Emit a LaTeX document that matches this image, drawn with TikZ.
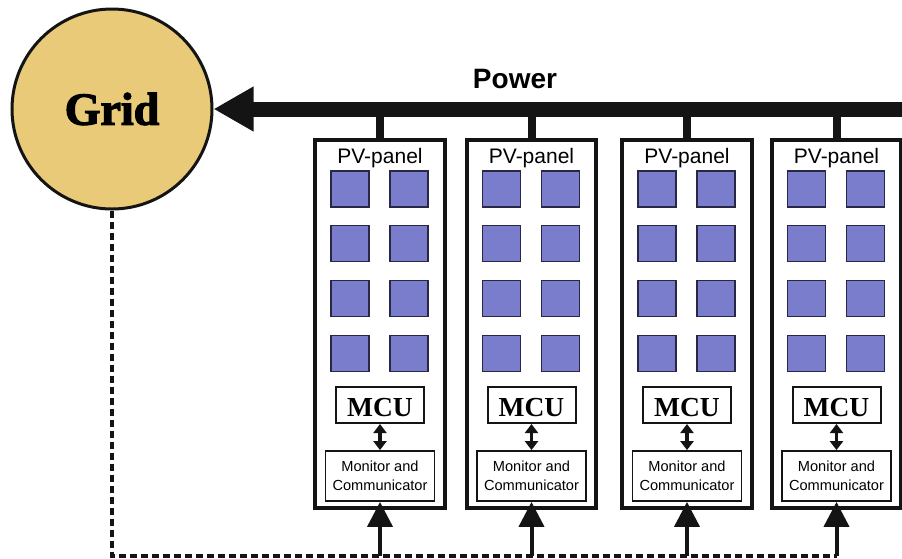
\documentclass[tikz,border=0pt]{standalone}
\usepackage{fontspec}
\setmainfont{Liberation Serif}
\setsansfont{Liberation Sans}
\newfontfamily\gridfont[BoldFeatures={FakeBold=2.5}]{Liberation Serif}
\usetikzlibrary{arrows.meta}
\definecolor{gridfill}{RGB}{233,202,120}
\definecolor{cellblue}{RGB}{121,125,204}
\definecolor{celledge}{RGB}{40,40,70}
\definecolor{ink}{RGB}{20,20,20}
\tikzset{
  gridnode/.style={circle, draw=ink, line width=3pt, fill=gridfill, minimum size=200pt, inner sep=0pt,
    font=\gridfont\bfseries\fontsize{46}{46}\selectfont},
  bus/.style={draw=ink, line width=15pt, -{Triangle[length=40pt,width=42pt]}},
  stub/.style={draw=ink, line width=8pt},
  panelbox/.style={rectangle, draw=ink, line width=4pt, minimum height=368pt, inner sep=0pt},
  paneltitle/.style={anchor=base, inner sep=0pt, font=\sffamily\fontsize{21}{21}\selectfont},
  cell/.style={rectangle, draw=celledge, line width=1.2pt, fill=cellblue, minimum width=38pt, minimum height=36pt, inner sep=0pt},
  mcubox/.style={rectangle, draw=ink, line width=2pt, minimum width=88pt, minimum height=36pt, inner sep=0pt},
  mcutext/.style={anchor=base, inner sep=0pt, font=\bfseries\fontsize{27.5}{27.5}\selectfont},
  monbox/.style={rectangle, draw=ink, line width=1.8pt, minimum width=109pt, minimum height=50pt, inner sep=0pt,
    align=center, font=\sffamily\fontsize{14.6}{19}\selectfont},
  dbl/.style={draw=ink, line width=3.5pt, {Triangle[length=9pt,width=13pt]}-{Triangle[length=9pt,width=13pt]}},
  uparrow/.style={draw=ink, line width=4pt, -{Triangle[length=25pt,width=25pt]}},
  dashline/.style={draw=ink, line width=3.5pt, dash pattern=on 7pt off 4pt},
}
\begin{document}
\begin{tikzpicture}[x=1pt,y=-1pt]
\useasboundingbox (0,0) rectangle (902,558);
\node[gridnode] (grid) at (112,109) {Grid};
\coordinate (busR) at (902,109);
\node[anchor=base, inner sep=0pt, font=\sffamily\bfseries\fontsize{28}{28}\selectfont] (power) at (515,88) {Power};
\foreach \i/\cx/\w in {1/380/130, 2/531.5/129, 3/687/130, 4/836.5/129}{
  \node[panelbox, minimum width=\w pt] (p\i) at (\cx,324) {};
  \draw[stub] (p\i.north) -- (p\i.north |- busR);
  \node[paneltitle] (t\i) at (\cx,163) {PV-panel};
  \foreach \r/\y in {1/189,2/243.5,3/298.5,4/353.5}{
    \foreach \c/\dx in {a/-30,b/29}{
      \node[cell] (c\i\r\c) at ({\cx+(\dx)},\y) {};
    }
  }
  \node[mcubox] (m\i) at (\cx,405) {};
  \node[mcutext] (mt\i) at (\cx,416) {MCU};
  \node[monbox] (mc\i) at (\cx,476) {Monitor and\\Communicator};
  \draw[dbl] (m\i.south) -- (mc\i.north);
  \coordinate (in\i) at (\cx,556);
}
\draw[dashline] (grid.south) -- (grid.south |- in4) -- (in4);
\foreach \i in {1,2,3,4}{
  \draw[uparrow] (in\i) -- (mc\i.south);
}
\draw[bus] (busR) -- (grid);
\end{tikzpicture}
\end{document}
